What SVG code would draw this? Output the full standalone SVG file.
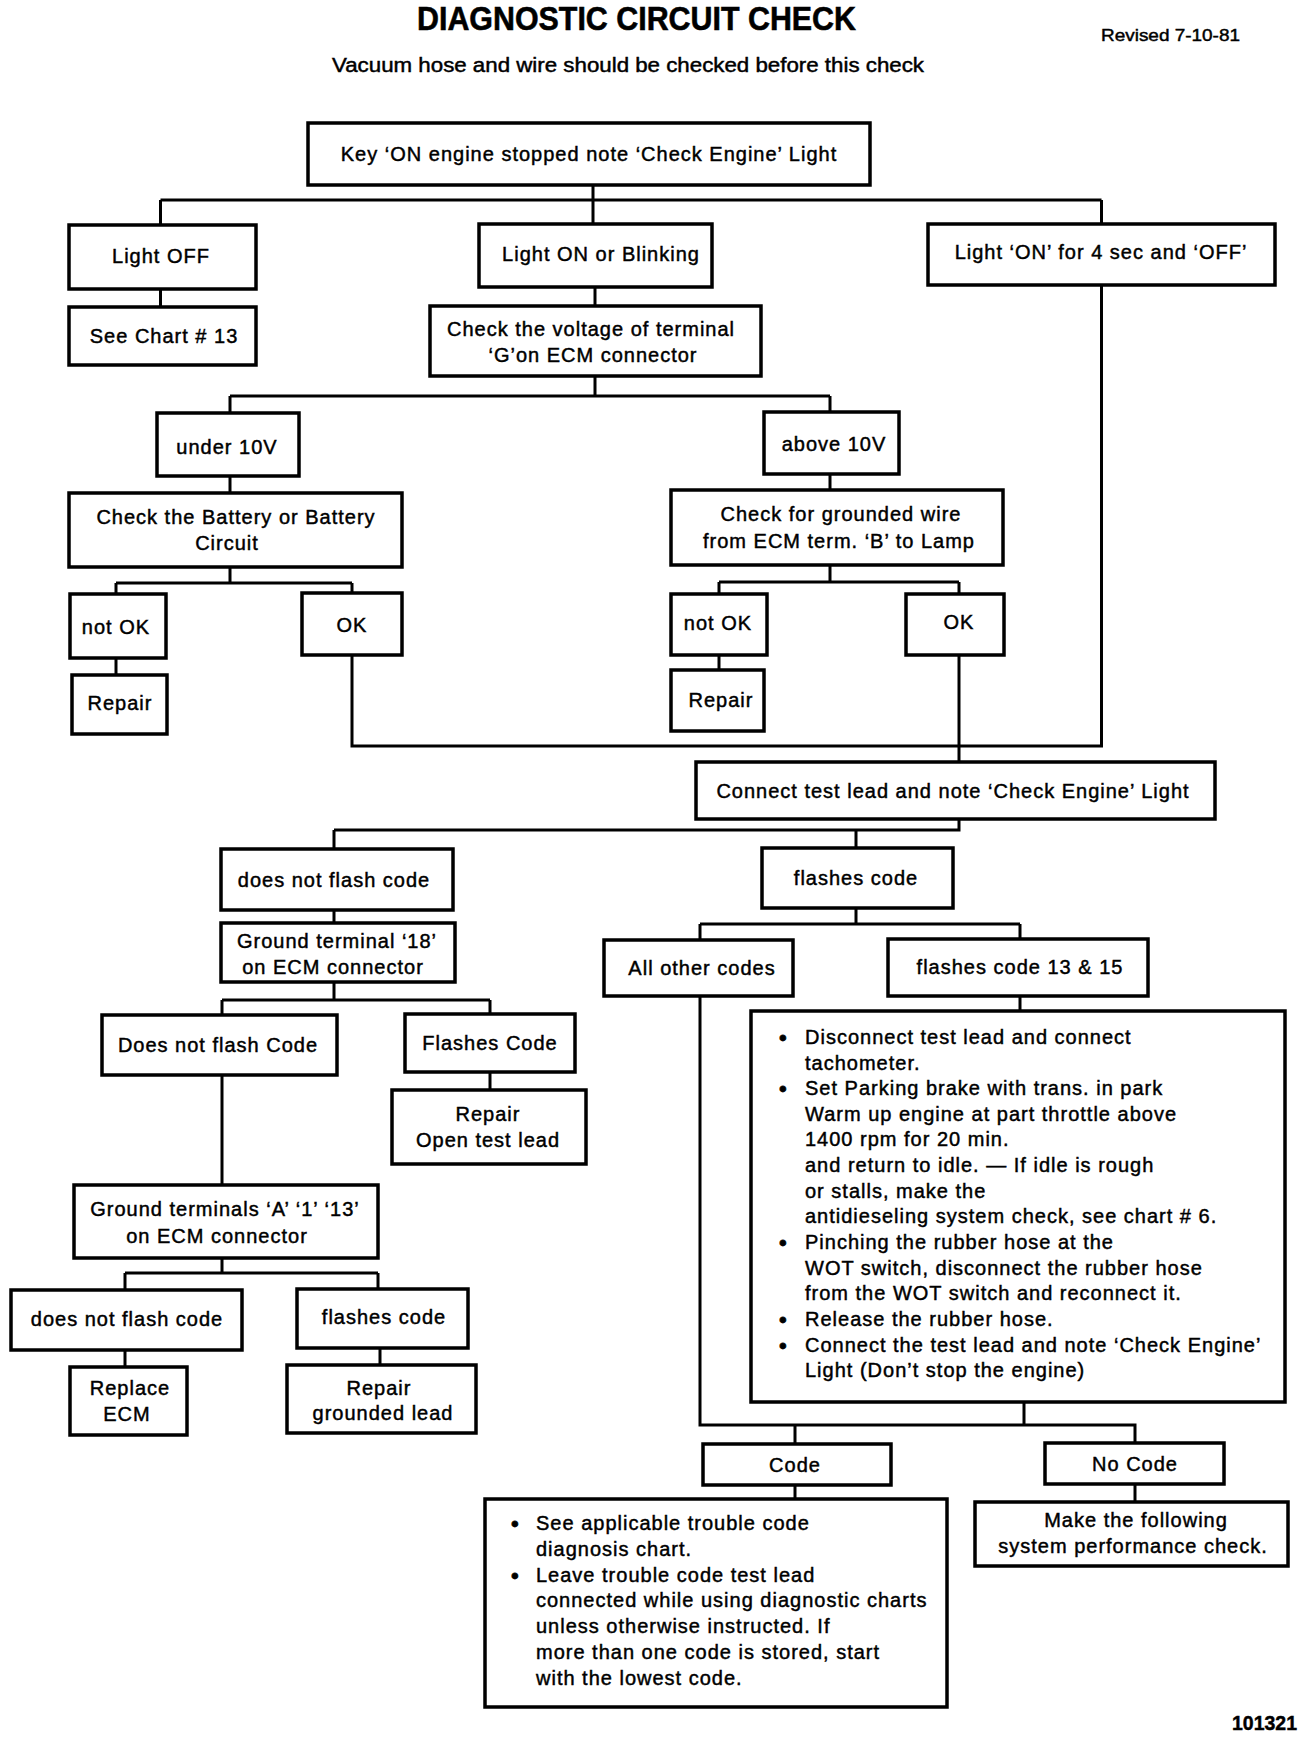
<svg xmlns="http://www.w3.org/2000/svg" width="1312" height="1742" viewBox="0 0 1312 1742">
<style>
.b{fill:#fff;stroke:#000;stroke-width:3.5}
.c{fill:none;stroke:#000;stroke-width:3}
text{font-family:"Liberation Sans",Arial,sans-serif;font-size:20px;fill:#000;stroke:#000;stroke-width:0.45;letter-spacing:1px}
.t{text-anchor:middle;dominant-baseline:central}
.l{dominant-baseline:central}
.bu{font-size:22px;stroke-width:0.8;letter-spacing:0}
.title{font-size:34px;font-weight:bold;letter-spacing:0;stroke-width:0.6}
.rev{font-size:17px;letter-spacing:0}
.sub{font-size:20px;letter-spacing:0}
.num{font-size:20px;font-weight:bold;letter-spacing:0}
</style>
<rect width="1312" height="1742" fill="#fff"/>
<text class="title" x="417" y="30" textLength="439" lengthAdjust="spacingAndGlyphs">DIAGNOSTIC CIRCUIT CHECK</text>
<text class="rev" x="1101" y="41" textLength="139" lengthAdjust="spacingAndGlyphs">Revised 7-10-81</text>
<text class="sub" x="332" y="72" textLength="592" lengthAdjust="spacingAndGlyphs">Vacuum hose and wire should be checked before this check</text>

<g id="connectors">
<path class="c" d="M593 185V200M160.5 200H1101.5M160.5 200V225M593 200V224M1101.5 200V224"/>
<path class="c" d="M160.5 289V307"/>
<path class="c" d="M595 287V306"/>
<path class="c" d="M595 376V396M230 396H830M230 396V413M830 396V412"/>
<path class="c" d="M230 476V493"/>
<path class="c" d="M830 474V490"/>
<path class="c" d="M230 567V583M116 583H352M116 583V594M352 583V593"/>
<path class="c" d="M116 658V675"/>
<path class="c" d="M830 565V582M719 582H959M719 582V594M959 582V594"/>
<path class="c" d="M719 655V670"/>
<path class="c" d="M352 655V746H1101.5V285"/>
<path class="c" d="M959 655V762"/>
<path class="c" d="M959 819V830H334M334 830V849M856 830V848"/>
<path class="c" d="M334 910V923"/>
<path class="c" d="M334 982V1000M222 1000H490M222 1000V1015M490 1000V1014"/>
<path class="c" d="M490 1072V1090"/>
<path class="c" d="M222 1075V1185"/>
<path class="c" d="M222 1258V1273M125 1273H378M125 1273V1290M378 1273V1289"/>
<path class="c" d="M125 1350V1367"/>
<path class="c" d="M380 1348V1365"/>
<path class="c" d="M856 908V924M700 924H1020M700 924V940M1020 924V939"/>
<path class="c" d="M1020 996V1011"/>
<path class="c" d="M700 996V1425H1135V1443M1024 1402V1425M795 1425V1444"/>
<path class="c" d="M795 1485V1499"/>
<path class="c" d="M1135 1484V1502"/>
</g>

<g id="n_key"><rect class="b" x="308" y="123" width="562" height="62"/><text class="t" x="589" y="154">Key ‘ON engine stopped note ‘Check Engine’ Light</text></g>
<g id="n_off"><rect class="b" x="69" y="225" width="187" height="64"/><text class="t" x="161" y="256">Light OFF</text></g>
<g id="n_on"><rect class="b" x="479" y="224" width="233" height="63"/><text class="t" x="601" y="254">Light ON or Blinking</text></g>
<g id="n_4sec"><rect class="b" x="928" y="224" width="347" height="61"/><text class="t" x="1101" y="252">Light ‘ON’ for 4 sec and ‘OFF’</text></g>
<g id="n_chart13"><rect class="b" x="69" y="307" width="187" height="58"/><text class="t" x="164" y="336">See Chart # 13</text></g>
<g id="n_voltage"><rect class="b" x="430" y="306" width="331" height="70"/><text class="t" x="591" y="329">Check the voltage of terminal</text><text class="t" x="593" y="355">‘G’on ECM connector</text></g>
<g id="n_under"><rect class="b" x="157" y="413" width="142" height="63"/><text class="t" x="227" y="447">under 10V</text></g>
<g id="n_above"><rect class="b" x="764" y="412" width="135" height="62"/><text class="t" x="834" y="444">above 10V</text></g>
<g id="n_battery"><rect class="b" x="69" y="493" width="333" height="74"/><text class="t" x="236" y="517">Check the Battery or Battery</text><text class="t" x="227" y="543">Circuit</text></g>
<g id="n_grounded"><rect class="b" x="671" y="490" width="332" height="75"/><text class="t" x="841" y="514">Check for grounded wire</text><text class="t" x="839" y="541">from ECM term. ‘B’ to Lamp</text></g>
<g id="n_notok1"><rect class="b" x="70" y="594" width="96" height="64"/><text class="t" x="116" y="627">not OK</text></g>
<g id="n_ok1"><rect class="b" x="302" y="593" width="100" height="62"/><text class="t" x="352" y="625">OK</text></g>
<g id="n_notok2"><rect class="b" x="671" y="594" width="96" height="61"/><text class="t" x="718" y="623">not OK</text></g>
<g id="n_ok2"><rect class="b" x="906" y="594" width="98" height="61"/><text class="t" x="959" y="622">OK</text></g>
<g id="n_repair1"><rect class="b" x="72" y="675" width="95" height="59"/><text class="t" x="120" y="703">Repair</text></g>
<g id="n_repair2"><rect class="b" x="671" y="670" width="93" height="61"/><text class="t" x="721" y="700">Repair</text></g>
<g id="n_connect"><rect class="b" x="696" y="762" width="519" height="57"/><text class="t" x="953" y="791">Connect test lead and note ‘Check Engine’ Light</text></g>
<g id="n_nflash1"><rect class="b" x="221" y="849" width="232" height="61"/><text class="t" x="334" y="880">does not flash code</text></g>
<g id="n_flash1"><rect class="b" x="762" y="848" width="191" height="60"/><text class="t" x="856" y="878">flashes code</text></g>
<g id="n_ground18"><rect class="b" x="221" y="923" width="234" height="59"/><text class="t" x="337" y="941">Ground terminal ‘18’</text><text class="t" x="333" y="967">on ECM connector</text></g>
<g id="n_nflash2"><rect class="b" x="102" y="1015" width="235" height="60"/><text class="t" x="218" y="1045">Does not flash Code</text></g>
<g id="n_flash2"><rect class="b" x="405" y="1014" width="170" height="58"/><text class="t" x="490" y="1043">Flashes Code</text></g>
<g id="n_openlead"><rect class="b" x="392" y="1090" width="194" height="74"/><text class="t" x="488" y="1114">Repair</text><text class="t" x="488" y="1140">Open test lead</text></g>
<g id="n_groundA"><rect class="b" x="74" y="1185" width="304" height="73"/><text class="t" x="225" y="1209">Ground terminals ‘A’ ‘1’ ‘13’</text><text class="t" x="217" y="1236">on ECM connector</text></g>
<g id="n_nflash3"><rect class="b" x="11" y="1290" width="231" height="60"/><text class="t" x="127" y="1319">does not flash code</text></g>
<g id="n_flash3"><rect class="b" x="297" y="1289" width="171" height="59"/><text class="t" x="384" y="1317">flashes code</text></g>
<g id="n_replace"><rect class="b" x="70" y="1367" width="117" height="68"/><text class="t" x="130" y="1388">Replace</text><text class="t" x="127" y="1414">ECM</text></g>
<g id="n_repairgnd"><rect class="b" x="287" y="1365" width="189" height="68"/><text class="t" x="379" y="1388">Repair</text><text class="t" x="383" y="1413">grounded lead</text></g>
<g id="n_allother"><rect class="b" x="604" y="940" width="189" height="56"/><text class="t" x="702" y="968">All other codes</text></g>
<g id="n_flash1315"><rect class="b" x="888" y="939" width="260" height="57"/><text class="t" x="1020" y="967">flashes code 13 &amp; 15</text></g>
<g id="n_procedure"><rect class="b" x="751" y="1011" width="534" height="391"/>
<text class="l bu"><tspan x="779" y="1037">•</tspan><tspan x="779" y="1088">•</tspan><tspan x="779" y="1242">•</tspan><tspan x="779" y="1319">•</tspan><tspan x="779" y="1345">•</tspan></text>
<text class="l">
<tspan x="805" y="1037">Disconnect test lead and connect</tspan>
<tspan x="805" y="1063">tachometer.</tspan>
<tspan x="805" y="1088">Set Parking brake with trans. in park</tspan>
<tspan x="805" y="1114">Warm up engine at part throttle above</tspan>
<tspan x="805" y="1139">1400 rpm for 20 min.</tspan>
<tspan x="805" y="1165">and return to idle. — If idle is rough</tspan>
<tspan x="805" y="1191">or stalls, make the</tspan>
<tspan x="805" y="1216">antidieseling system check, see chart # 6.</tspan>
<tspan x="805" y="1242">Pinching the rubber hose at the</tspan>
<tspan x="805" y="1268">WOT switch, disconnect the rubber hose</tspan>
<tspan x="805" y="1293">from the WOT switch and reconnect it.</tspan>
<tspan x="805" y="1319">Release the rubber hose.</tspan>
<tspan x="805" y="1345">Connect the test lead and note ‘Check Engine’</tspan>
<tspan x="805" y="1370">Light (Don’t stop the engine)</tspan>
</text></g>
<g id="n_code"><rect class="b" x="703" y="1444" width="188" height="41"/><text class="t" x="795" y="1465">Code</text></g>
<g id="n_nocode"><rect class="b" x="1045" y="1443" width="179" height="41"/><text class="t" x="1135" y="1464">No Code</text></g>
<g id="n_trouble"><rect class="b" x="485" y="1499" width="462" height="208"/>
<text class="l bu"><tspan x="511" y="1523">•</tspan><tspan x="511" y="1575">•</tspan></text>
<text class="l">
<tspan x="536" y="1523">See applicable trouble code</tspan>
<tspan x="536" y="1549">diagnosis chart.</tspan>
<tspan x="536" y="1575">Leave trouble code test lead</tspan>
<tspan x="536" y="1600">connected while using diagnostic charts</tspan>
<tspan x="536" y="1626">unless otherwise instructed. If</tspan>
<tspan x="536" y="1652">more than one code is stored, start</tspan>
<tspan x="536" y="1678">with the lowest code.</tspan>
</text></g>
<g id="n_perf"><rect class="b" x="975" y="1502" width="313" height="64"/><text class="t" x="1136" y="1520">Make the following</text><text class="t" x="1133" y="1546">system performance check.</text></g>
<text class="num" x="1232" y="1730" textLength="65" lengthAdjust="spacingAndGlyphs">101321</text>
</svg>
